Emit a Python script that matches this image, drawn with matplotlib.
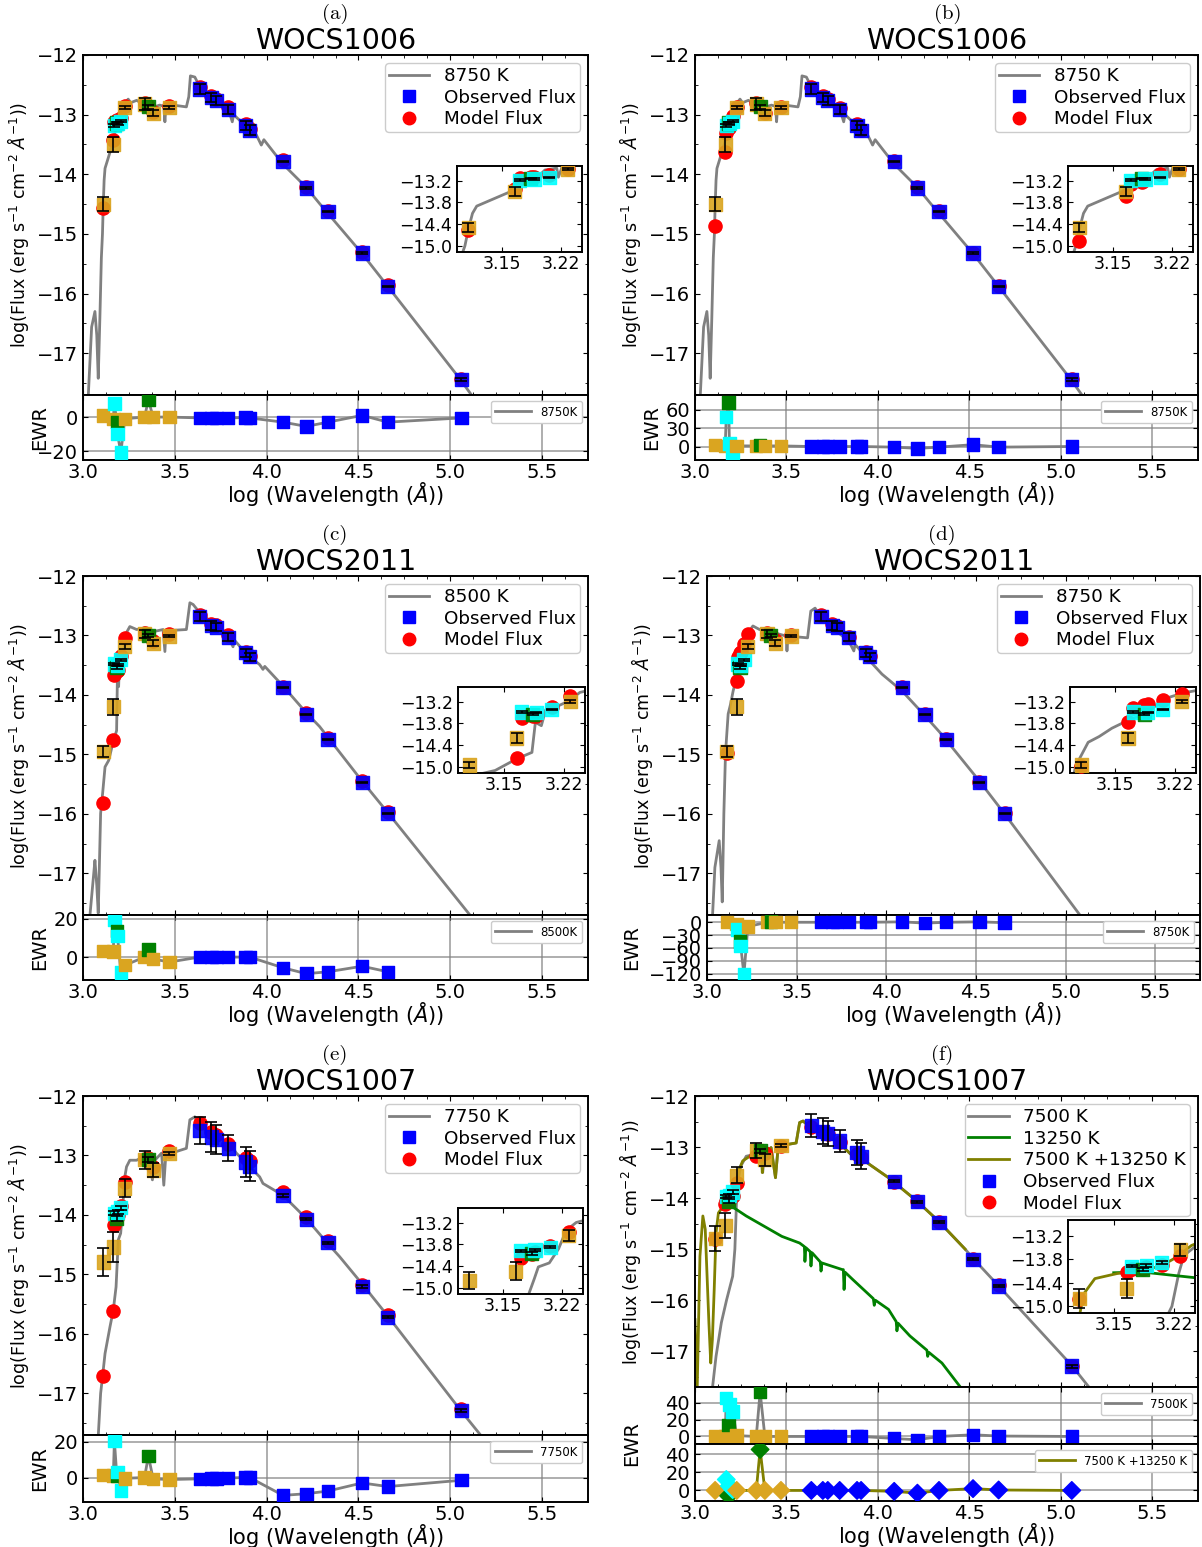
import matplotlib
matplotlib.use("Agg")
import matplotlib.pyplot as plt
from matplotlib.lines import Line2D
from matplotlib.ticker import AutoMinorLocator

W, H = 1202, 1547

# log(wavelength) of the photometric points and the system colour of each
wl = [3.110, 3.165, 3.171, 3.184, 3.188, 3.206, 3.228, 3.335, 3.356, 3.382, 3.470,
      3.636, 3.699, 3.726, 3.791, 3.886, 3.908, 4.089, 4.216, 4.334, 4.520, 4.660, 5.060]
sys_col = ['goldenrod', 'goldenrod', 'cyan', 'green', 'cyan', 'cyan', 'goldenrod',
           'goldenrod', 'green', 'goldenrod', 'goldenrod'] + ['blue'] * 12

# WOCS1006 (panels a, b)
obs_1006 = [-14.50, -13.50, -13.18, -13.14, -13.15, -13.11, -12.88, -12.82, -12.87, -12.98, -12.88,
            -12.57, -12.71, -12.76, -12.91, -13.18, -13.26, -13.78, -14.23, -14.63, -15.32, -15.88, -17.44]
err_1006 = [0.12, 0.12, 0.02, 0.02, 0.02, 0.02, 0.03, 0.10, 0.03, 0.05, 0.02,
            0.08, 0.07, 0.08, 0.08, 0.08, 0.08, 0.01, 0.01, 0.01, 0.01, 0.01, 0.02]
model_a = [-14.57, -13.43, -13.12, -13.09, -13.10, -13.05, -12.86, -12.80, -12.85, -12.96, -12.86,
           -12.53, -12.68, -12.73, -12.88, -13.15, -13.24, -13.76, -14.21, -14.61, -15.31, -15.86, -17.43]
model_b = [-14.87, -13.63, -13.30, -13.22, -13.18, -13.02, -12.87, -12.80, -12.86, -12.97, -12.87,
           -12.54, -12.69, -12.74, -12.89, -13.16, -13.25, -13.77, -14.22, -14.62, -15.32, -15.87, -17.43]
res_a = [1, -1, 8, -3, -10, -21, -1, 0, 10, 0, 0,
         -0.5, -0.5, -0.5, -0.5, -0.3, -0.5, -3, -5.5, -3, 1, -3, -0.5]
res_b = [2, 1, 48, 72, 5, -10, 1, 1, 2, 1, 1,
         0, 0, 0, 0, 0, 0, -1, -3, -1, 3, -1, 0]

# WOCS2011 (panels c, d), no point at 5.06
obs_2011 = [-14.95, -14.20, -13.48, -13.54, -13.50, -13.41, -13.19, -12.97, -13.00, -13.13, -13.01,
            -12.68, -12.83, -12.86, -13.03, -13.29, -13.36, -13.88, -14.33, -14.75, -15.47, -16.00]
err_2011 = [0.09, 0.14, 0.02, 0.03, 0.02, 0.02, 0.04, 0.07, 0.03, 0.05, 0.02,
            0.07, 0.07, 0.07, 0.07, 0.07, 0.07, 0.01, 0.01, 0.01, 0.01, 0.01]
model_c = [-15.82, -14.75, -13.66, -13.60, -13.58, -13.35, -13.05, -12.96, -12.99, -13.10, -12.98,
           -12.65, -12.80, -12.83, -13.00, -13.27, -13.34, -13.86, -14.31, -14.72, -15.44, -15.96]
model_d = [-14.97, -13.77, -13.37, -13.30, -13.27, -13.15, -12.98, -12.96, -12.99, -13.07, -12.99,
           -12.66, -12.81, -12.84, -13.02, -13.28, -13.35, -13.87, -14.32, -14.74, -15.46, -15.99]
res_c = [3.2, 3, 19.5, 13.5, 11, -8, -4.3, 0, 4, -1, -2.6,
         0, 0, 0, 0, 0, 0, -5.6, -8.7, -7.7, -4.8, -7.7]
res_d = [0, -4, -17, -45, -55, -122, -10, 0, 2, 0, 0,
         0, 0, 0, 0, 0, 0, 1, -2, 0, 1, -1]

# WOCS1007 (panels e, f)
obs_1007 = [-14.79, -14.54, -13.97, -14.06, -13.95, -13.88, -13.55, -13.07, -13.07, -13.25, -12.97,
            -12.58, -12.69, -12.73, -12.88, -13.11, -13.18, -13.67, -14.07, -14.47, -15.20, -15.72, -17.29]
err_1007 = [0.24, 0.25, 0.03, 0.04, 0.03, 0.03, 0.15, 0.15, 0.04, 0.12, 0.03,
            0.22, 0.25, 0.25, 0.22, 0.25, 0.25, 0.02, 0.02, 0.02, 0.02, 0.02, 0.03]
model_e = [-16.70, -15.61, -14.17, -14.05, -14.00, -13.85, -13.45, -13.06, -13.05, -13.19, -12.93,
           -12.46, -12.60, -12.65, -12.80, -13.05, -13.10, -13.62, -14.03, -14.43, -15.18, -15.68, -17.27]
model_f = [-14.80, -14.11, -14.05, -14.05, -14.00, -13.95, -13.70, -13.18, -13.14, -13.12, -12.98,
           -12.60, -12.70, -12.74, -12.90, -13.13, -13.20, -13.68, -14.05, -14.47, -15.19, -15.71, -17.28]
res_e = [1.5, 1.1, 20.4, 1.1, 3, -7.2, -0.4, 0, 12, -0.7, -1.1,
         -0.7, -0.4, -0.4, -0.2, 0, 0, -9.9, -9, -7.5, -3, -5, -1.5]
res_f1 = [0.4, 0.4, 46, 14, 38, 30, 1, 0, 53, 0, 0,
          0, 0, 0, 0, 0, 0, -2.4, -4, 0, 2, 0.5, 0]
res_f2 = [0, 0, 12, -6, 5, 1, 0, 0, 45, 0, 0,
          0, 0, 0, 0, 0, 0, -1, -3, 0, 2, 0.5, 0]

# model spectra: log(wavelength), log(flux)
sp8750_x = [3.029, 3.047, 3.065, 3.075, 3.083, 3.092, 3.100, 3.106, 3.110, 3.115, 3.120, 3.132, 3.150,
            3.160, 3.172, 3.185, 3.195, 3.201, 3.215, 3.217, 3.221, 3.246, 3.260, 3.292, 3.319, 3.346,
            3.368, 3.373, 3.378, 3.418, 3.440, 3.446, 3.452, 3.491, 3.563, 3.576, 3.585, 3.609, 3.627,
            3.672, 3.745, 3.799, 3.813, 3.820, 3.890, 3.944, 3.971, 3.985, 4.089, 4.216, 4.288, 4.520,
            4.660, 5.055, 5.120]
sp8750_y = [-17.70, -16.56, -16.30, -16.70, -17.42, -16.40, -15.40, -15.00, -14.55, -14.10, -13.90,
            -13.78, -13.60, -13.50, -13.33, -13.18, -13.04, -12.90, -12.85, -13.10, -12.84, -12.74,
            -12.80, -12.76, -12.81, -12.78, -12.88, -13.06, -12.88, -12.84, -12.86, -13.12, -12.84,
            -12.84, -12.87, -12.70, -12.35, -12.37, -12.48, -12.64, -12.81, -12.98, -13.12, -13.00,
            -13.20, -13.34, -13.51, -13.42, -13.83, -14.22, -14.49, -15.33, -15.88, -17.44, -17.72]

sp8500_x = [3.038, 3.060, 3.065, 3.075, 3.083, 3.096, 3.107, 3.120, 3.140, 3.165, 3.183, 3.187,
            3.194, 3.199, 3.212, 3.226, 3.239, 3.255, 3.292, 3.337, 3.370, 3.375, 3.391, 3.436,
            3.446, 3.452, 3.563, 3.582, 3.600, 3.636, 3.708, 3.790, 3.817, 3.825, 3.890, 3.962,
            3.980, 3.990, 4.089, 4.216, 4.288, 4.520, 4.660, 5.107]
sp8500_y = [-17.70, -16.95, -16.78, -17.20, -17.67, -15.99, -15.65, -15.21, -15.10, -14.78, -14.60,
            -13.77, -13.86, -13.42, -13.33, -13.18, -12.94, -12.85, -12.90, -12.87, -12.95, -13.15,
            -12.93, -12.90, -13.27, -12.92, -12.90, -12.45, -12.48, -12.62, -12.79, -13.02, -13.19,
            -13.08, -13.31, -13.49, -13.57, -13.52, -13.85, -14.30, -14.53, -15.45, -15.98, -17.70]

sp8750b_x = [3.031, 3.044, 3.068, 3.078, 3.085, 3.094, 3.103, 3.109, 3.118, 3.131, 3.146, 3.160,
             3.183, 3.197, 3.210, 3.229, 3.256, 3.293, 3.340, 3.370, 3.376, 3.382, 3.441, 3.446,
             3.452, 3.561, 3.579, 3.603, 3.635, 3.699, 3.792, 3.819, 3.826, 3.884, 3.976, 4.087,
             4.216, 4.308, 4.520, 4.660, 5.080]
sp8750b_y = [-17.70, -16.90, -16.45, -16.90, -17.48, -16.00, -15.00, -14.72, -14.32, -14.16, -13.93,
             -13.77, -13.54, -13.32, -13.10, -12.96, -12.84, -12.90, -12.90, -12.95, -13.04, -12.96,
             -13.01, -13.26, -13.01, -13.04, -12.59, -12.54, -12.70, -12.87, -13.10, -13.26, -13.15,
             -13.35, -13.65, -13.93, -14.35, -14.66, -15.45, -16.00, -17.70]

sp7750_x = [3.083, 3.096, 3.107, 3.120, 3.147, 3.165, 3.180, 3.187, 3.192, 3.205, 3.216, 3.225,
            3.237, 3.255, 3.292, 3.328, 3.364, 3.378, 3.391, 3.428, 3.440, 3.451, 3.563, 3.582,
            3.609, 3.636, 3.708, 3.799, 3.835, 3.890, 3.962, 3.980, 4.089, 4.216, 4.324, 4.397,
            4.520, 4.660, 5.055, 5.170]
sp7750_y = [-17.72, -17.00, -16.70, -16.33, -15.88, -15.60, -15.21, -14.76, -14.42, -14.31, -13.92,
            -13.41, -13.19, -13.08, -13.08, -13.02, -13.10, -13.41, -13.08, -12.96, -13.50, -12.99,
            -12.88, -12.40, -12.35, -12.52, -12.63, -12.80, -12.96, -13.13, -13.36, -13.47, -13.67,
            -14.06, -14.45, -14.70, -15.16, -15.70, -17.28, -17.72]

sp7500_x = [3.095, 3.115, 3.144, 3.173, 3.206, 3.218, 3.226, 3.232, 3.251, 3.280, 3.330, 3.364,
            3.370, 3.378, 3.416, 3.440, 3.455, 3.553, 3.572, 3.591, 3.630, 3.708, 3.786, 3.864,
            3.942, 4.058, 4.214, 4.331, 4.477, 4.520, 4.660, 5.060, 5.160]
sp7500_y = [-17.73, -17.10, -16.44, -15.99, -15.53, -15.00, -14.16, -13.70, -13.37, -13.18, -13.14,
            -13.20, -13.50, -13.20, -13.01, -13.60, -12.98, -12.92, -12.52, -12.49, -12.62, -12.72,
            -12.92, -13.18, -13.31, -13.60, -14.06, -14.45, -15.00, -15.18, -15.72, -17.28, -17.73]

sp13250_x = [3.150, 3.183, 3.280, 3.475, 3.572, 3.598, 3.601, 3.606, 3.630, 3.634, 3.640, 3.685,
             3.689, 3.694, 3.805, 3.811, 3.815, 3.820, 3.864, 3.975, 3.980, 3.986, 4.058, 4.100,
             4.104, 4.110, 4.175, 4.268, 4.272, 4.278, 4.350, 4.457]
sp13250_y = [-14.14, -14.12, -14.35, -14.75, -14.88, -14.95, -15.24, -14.97, -15.05, -15.33, -15.07,
             -15.25, -15.43, -15.27, -15.40, -15.40, -15.79, -15.45, -15.60, -15.97, -16.10, -16.00,
             -16.18, -16.42, -16.60, -16.45, -16.70, -16.98, -17.10, -17.02, -17.23, -17.73]

spsum_x = [3.000, 3.012, 3.027, 3.043, 3.056, 3.076, 3.086, 3.095, 3.105, 3.115, 3.128, 3.154,
           3.183, 3.206, 3.222, 3.241, 3.261, 3.300, 3.339, 3.364, 3.368, 3.372, 3.416, 3.440,
           3.455, 3.553, 3.572, 3.591, 3.630, 3.708, 3.786, 3.864, 3.942, 4.058, 4.214, 4.331, 4.477]
spsum_y = [-16.38, -17.73, -15.14, -14.35, -14.61, -16.44, -17.23, -16.77, -15.79, -14.68, -14.29,
           -14.16, -14.09, -13.96, -13.76, -13.44, -13.27, -13.18, -13.14, -13.20, -13.50, -13.20,
           -13.01, -13.60, -12.98, -12.92, -12.52, -12.49, -12.62, -12.72, -12.92, -13.18, -13.31,
           -13.60, -14.06, -14.45, -15.00]

YLAB = r'log(Flux (erg s$^{-1}$ cm$^{-2}$ $\AA^{-1}$))'
XLAB = r'log (Wavelength ($\AA$))'


def rect(x0, x1, y0, y1):
    return [x0 / W, 1 - y1 / H, (x1 - x0) / W, (y1 - y0) / H]


def style(ax, size=14):
    ax.tick_params(which='both', direction='in', top=True, right=True, labelsize=size)
    ax.tick_params(axis='x', pad=2)
    for s in ax.spines.values():
        s.set_linewidth(1.4)


def points(ax, x, obs, err, model, cols, ms=90):
    ax.scatter(x, model, s=ms, marker='o', color='red', zorder=3)
    ax.scatter(x, obs, s=ms, marker='s', color=cols, alpha=0.9, zorder=4)
    ax.errorbar(x, obs, yerr=err, fmt='none', ecolor='k', elinewidth=1.2,
                capsize=4, capthick=1.2, zorder=5)


def panel(fig, xs, ymain, yres, inset, letter, title, spectra, obs, err, model, resids, ewr_x):
    n = len(obs)
    x = wl[:n]
    cols = sys_col[:n]
    ax = fig.add_axes(rect(xs[0], xs[1], ymain[0], ymain[1]))
    for sx, sy, c, lab in spectra:
        ax.plot(sx, sy, color=c, lw=2, zorder=2)
    points(ax, x, obs, err, model, cols)
    ax.set_xlim(3.0, 5.75)
    ax.set_ylim(-17.7, -12)
    ax.set_yticks([-17, -16, -15, -14, -13, -12])
    ax.xaxis.set_minor_locator(AutoMinorLocator(4))
    ax.yaxis.set_minor_locator(AutoMinorLocator(2))
    style(ax)
    ax.tick_params(labelbottom=False)
    ax.set_ylabel(YLAB, fontsize=12.5)
    ax.set_title(title, fontsize=20.5, pad=0.5)
    fig.text(letter[1] / W, 1 - letter[2] / H, letter[0], family='cmr10', fontsize=15,
             ha='center', va='center')
    handles = [Line2D([], [], color=c, lw=2, label=lab) for sx, sy, c, lab in spectra]
    handles += [Line2D([], [], ls='none', marker='s', color='blue', ms=9, label='Observed Flux'),
                Line2D([], [], ls='none', marker='o', color='red', ms=9, label='Model Flux')]
    ax.legend(handles=handles, loc='upper right', fontsize=13.2, handlelength=2.2,
              labelspacing=0.2, borderpad=0.2, borderaxespad=0.45, framealpha=1)

    # zoom on the UV points
    ai = fig.add_axes(rect(inset[0], inset[1], inset[2], inset[3]))
    for sx, sy, c, lab in spectra:
        ai.plot(sx, sy, color=c, lw=2, zorder=2)
    points(ai, x, obs, err, model, cols)
    ai.set_xlim(3.0966, 3.245)
    ai.set_ylim(-15.17, -12.79)
    ai.set_xticks([3.15, 3.22])
    ai.set_yticks([-13.2, -13.8, -14.4, -15.0])
    style(ai, 12.5)

    # residual (EWR) panels
    for k, (vals, lc, lab, mk, ylim, ticks) in enumerate(resids):
        y0, y1 = yres[k], yres[k + 1]
        ar = fig.add_axes(rect(xs[0], xs[1], y0, y1))
        ar.plot(x, vals, color=lc, lw=2, label=lab, zorder=2)
        ar.scatter(x, vals, s=80, marker=mk, color=cols, zorder=3)
        ar.set_xlim(3.0, 5.75)
        ar.set_ylim(*ylim)
        ar.set_yticks(ticks)
        ar.set_xticks([3.0, 3.5, 4.0, 4.5, 5.0, 5.5])
        ar.grid(True, color='grey', lw=1.1, alpha=0.8)
        style(ar)
        ar.legend(loc='upper right', fontsize=8.5, handlelength=3, framealpha=1)
        if k < len(resids) - 1:
            ar.tick_params(labelbottom=False)
        else:
            ar.set_xlabel(XLAB, fontsize=15, labelpad=-1.5)
    ymid = (yres[0] + yres[-1]) / 2
    fig.text(ewr_x / W, 1 - ymid / H, 'EWR', rotation=90, fontsize=14,
             ha='center', va='center')
    return ax


fig = plt.figure(figsize=(W / 100, H / 100), dpi=100)

g8750 = (sp8750_x, sp8750_y, 'grey', '8750 K')
panel(fig, (83, 588), (55, 395), (395, 460), (457, 582, 166, 252), ('(a)', 335, 14), 'WOCS1006',
      [g8750], obs_1006, err_1006, model_a,
      [(res_a, 'grey', '8750K', 's', (-25.3, 13), [-20, 0])], 40)
panel(fig, (695, 1198), (55, 395), (395, 460), (1068, 1193, 166, 252), ('(b)', 948, 14), 'WOCS1006',
      [g8750], obs_1006, err_1006, model_b,
      [(res_b, 'grey', '8750K', 's', (-22, 84), [0, 30, 60])], 652)
panel(fig, (83, 588), (576, 915), (915, 980), (458, 585, 687, 773), ('(c)', 335, 535), 'WOCS2011',
      [(sp8500_x, sp8500_y, 'grey', '8500 K')], obs_2011, err_2011, model_c,
      [(res_c, 'grey', '8500K', 's', (-12, 22), [0, 20])], 40)
panel(fig, (707, 1200), (576, 915), (915, 980), (1070, 1196, 687, 773), ('(d)', 942, 535), 'WOCS2011',
      [(sp8750b_x, sp8750b_y, 'grey', '8750 K')], obs_2011, err_2011, model_d,
      [(res_d, 'grey', '8750K', 's', (-135, 17), [-120, -90, -60, -30, 0])], 632)
panel(fig, (83, 588), (1096, 1435), (1435, 1502), (458, 583, 1208, 1294), ('(e)', 335, 1055), 'WOCS1007',
      [(sp7750_x, sp7750_y, 'grey', '7750 K')], obs_1007, err_1007, model_e,
      [(res_e, 'grey', '7750K', 's', (-13.6, 23.7), [0, 20])], 40)
panel(fig, (695, 1198), (1096, 1387), (1387, 1444, 1501), (1068, 1195, 1220, 1313), ('(f)', 942, 1055),
      'WOCS1007',
      [(sp7500_x, sp7500_y, 'grey', '7500 K'),
       (sp13250_x, sp13250_y, 'green', '13250 K'),
       (spsum_x, spsum_y, 'olive', '7500 K +13250 K')],
      obs_1007, err_1007, model_f,
      [(res_f1, 'grey', '7500K', 's', (-9, 59), [0, 20, 40]),
       (res_f2, 'olive', '7500 K +13250 K', 'D', (-11.6, 51), [0, 20, 40])], 632)

fig.savefig('out.png', dpi=100)
